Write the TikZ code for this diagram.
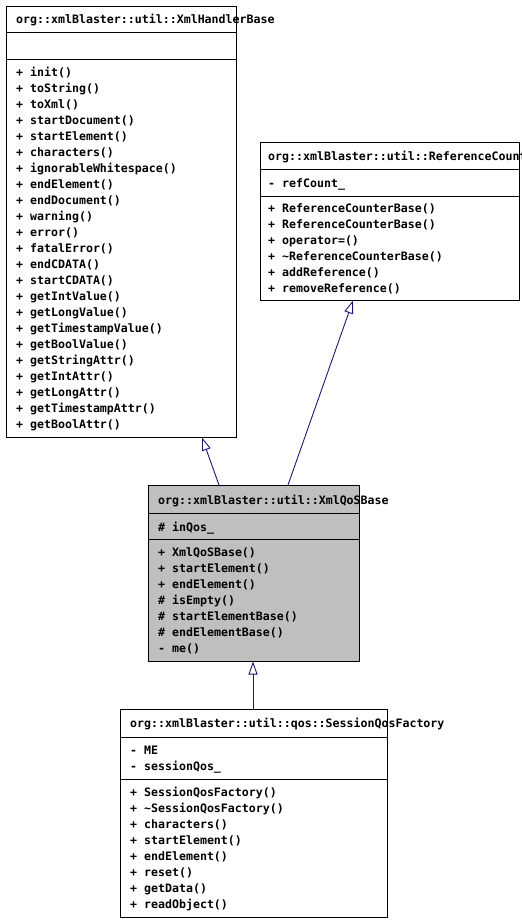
\documentclass[tikz,border=0pt]{standalone}
\usepackage{fontspec}
\setmonofont{DejaVu Sans Mono}
\usetikzlibrary{arrows.meta}
\definecolor{edgeblue}{HTML}{191970}
\definecolor{qosgray}{HTML}{BFBFBF}
\tikzset{
  member/.style={anchor=base west, inner sep=0pt, font=\fontsize{11.6}{14}\selectfont\ttfamily\bfseries},
  classbox/.style={anchor=north west, inner sep=0pt, outer sep=0pt},
  border/.style={draw=black, line width=1pt},
  inherit/.style={draw=edgeblue, line width=0.9pt, -{Triangle[length=13pt, width=9pt, fill=white]}},
}
\begin{document}
\begin{tikzpicture}[x=1pt,y=-1pt]
\useasboundingbox (0,0) rectangle (522,922);
% boxes (backgrounds)
\node[classbox, minimum width=230pt, minimum height=431pt] (hb) at (6,6) {};
\node[classbox, minimum width=259pt, minimum height=158pt] (rc) at (260,142) {};
\node[classbox, minimum width=211pt, minimum height=176pt, fill=qosgray] (qos) at (148,485) {};
\node[classbox, minimum width=267pt, minimum height=208pt] (sqf) at (120,709) {};
% texts: XmlHandlerBase
\node[member] (hbt) at (16,23.5) {org::xmlBlaster::util::XmlHandlerBase};
\foreach \m [count=\i from 0] in {init(),toString(),toXml(),startDocument(),startElement(),characters(),ignorableWhitespace(),endElement(),endDocument(),warning(),error(),fatalError(),endCDATA(),startCDATA(),getIntValue(),getLongValue(),getTimestampValue(),getBoolValue(),getStringAttr(),getIntAttr(),getLongAttr(),getTimestampAttr(),getBoolAttr()}
  \node[member] (hbm\i) at (16,76.5+16*\i) {+ \m};
% ReferenceCounterBase
\node[member] (rct) at (268,160.5) {org::xmlBlaster::util::ReferenceCounterBase};
\node[member] (rca) at (268,187.5) {- refCount\_};
\foreach \m [count=\i from 0] in {ReferenceCounterBase(),ReferenceCounterBase(),operator=(),\textasciitilde ReferenceCounterBase(),addReference(),removeReference()}
  \node[member] (rcm\i) at (268,212.5+16*\i) {+ \m};
% XmlQoSBase
\node[member] (qost) at (158,504.5) {org::xmlBlaster::util::XmlQoSBase};
\node[member] (qosa) at (158,531.5) {\# inQos\_};
\foreach \p/\m [count=\i from 0] in {+/XmlQoSBase(),+/startElement(),+/endElement(),\#/isEmpty(),\#/startElementBase(),\#/endElementBase(),-/me()}
  \node[member] (qosm\i) at (158,556.5+16*\i) {\p{} \m};
% SessionQosFactory
\node[member] (sqft) at (130,727.5) {org::xmlBlaster::util::qos::SessionQosFactory};
\node[member] (sqfa0) at (130,754.5) {- ME};
\node[member] (sqfa1) at (130,770.5) {- sessionQos\_};
\foreach \m [count=\i from 0] in {SessionQosFactory(),\textasciitilde SessionQosFactory(),characters(),startElement(),endElement(),reset(),getData(),readObject()}
  \node[member] (sqfm\i) at (130,796.5+16*\i) {+ \m};
% borders and dividers
\draw[border] (hb.north west) rectangle (hb.south east);
\draw[border] (6,32) -- (236,32) (6,59) -- (236,59);
\draw[border] (rc.north west) rectangle (rc.south east);
\draw[border] (260,169.5) -- (519,169.5) (260,196) -- (519,196);
\draw[border] (qos.north west) rectangle (qos.south east);
\draw[border] (148,513) -- (359,513) (148,539.5) -- (359,539.5);
\draw[border] (sqf.north west) rectangle (sqf.south east);
\draw[border] (120,737) -- (387,737) (120,779.5) -- (387,779.5);
% connectors
\coordinate (e1s) at (219,485); \coordinate (e1t) at (202,437.5);
\coordinate (e2s) at (288,485); \coordinate (e2t) at (353,300.5);
\coordinate (e3s) at (253,709); \coordinate (e3t) at (253,661.5);
\draw[inherit] (e1s) -- (e1t);
\draw[inherit] (e2s) -- (e2t);
\draw[inherit] (e3s) -- (e3t);
\end{tikzpicture}
\end{document}
